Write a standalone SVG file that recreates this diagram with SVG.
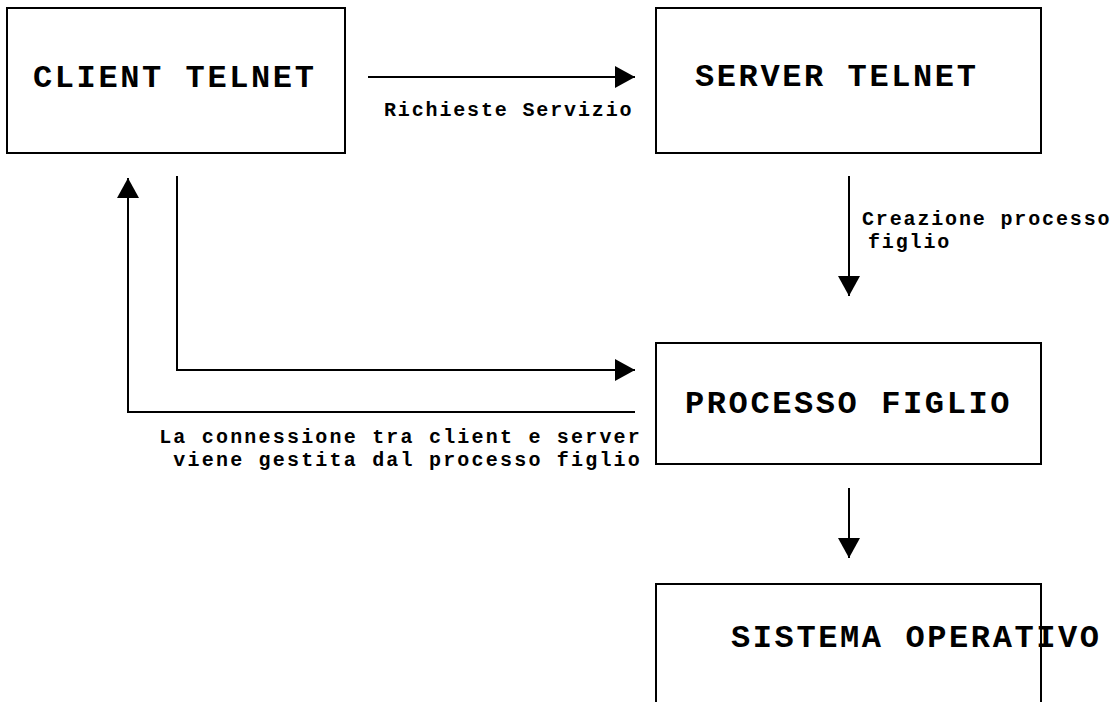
<svg xmlns="http://www.w3.org/2000/svg" width="1117" height="702" viewBox="0 0 1117 702">
<style>
.box{fill:#fff;stroke:#000;stroke-width:2}
.big{font-family:"Liberation Mono","Courier New",monospace;font-weight:bold;font-size:32px;letter-spacing:2.6px;fill:#000}
.lbl{font-family:"Liberation Mono","Courier New",monospace;font-weight:bold;font-size:20px;letter-spacing:1.85px;fill:#000}
.wide{letter-spacing:2.2px}
.conn{fill:none;stroke:#000;stroke-width:2}
</style>
<defs>
<marker id="ah" markerUnits="userSpaceOnUse" markerWidth="20" markerHeight="22" refX="20" refY="11" orient="auto">
<path d="M0,0 L20,11 L0,22 Z" fill="#000"/>
</marker>
</defs>
<rect width="1117" height="702" fill="#fff"/>
<g id="client">
<rect class="box" x="7" y="8" width="338" height="145"/>
<text class="big" x="33" y="87">CLIENT TELNET</text>
</g>
<g id="server">
<rect class="box" x="656" y="8" width="385" height="145"/>
<text class="big" x="695" y="86">SERVER TELNET</text>
</g>
<g id="figlio">
<rect class="box" x="656" y="343" width="385" height="121"/>
<text class="big" x="685" y="413">PROCESSO FIGLIO</text>
</g>
<g id="sistema">
<path class="conn" d="M656,712 L656,584 L1041,584 L1041,712"/>
<text class="big" x="731" y="647">SISTEMA OPERATIVO</text>
</g>
<g id="connectors">
<path class="conn" d="M368,77 L635,77" marker-end="url(#ah)"/>
<path class="conn" d="M849,176 L849,296" marker-end="url(#ah)"/>
<path class="conn" d="M177,176 L177,370 L635,370" marker-end="url(#ah)"/>
<path class="conn" d="M635,412 L128,412 L128,178" marker-end="url(#ah)"/>
<path class="conn" d="M849,488 L849,558" marker-end="url(#ah)"/>
</g>
<g id="labels">
<text class="lbl" x="384" y="116">Richieste Servizio</text>
<text class="lbl" x="862" y="225">Creazione processo</text>
<text class="lbl" x="868" y="248">figlio</text>
<text class="lbl wide" x="642" y="443" text-anchor="end">La connessione tra client e server</text>
<text class="lbl wide" x="642" y="466" text-anchor="end">viene gestita dal processo figlio</text>
</g>
</svg>
